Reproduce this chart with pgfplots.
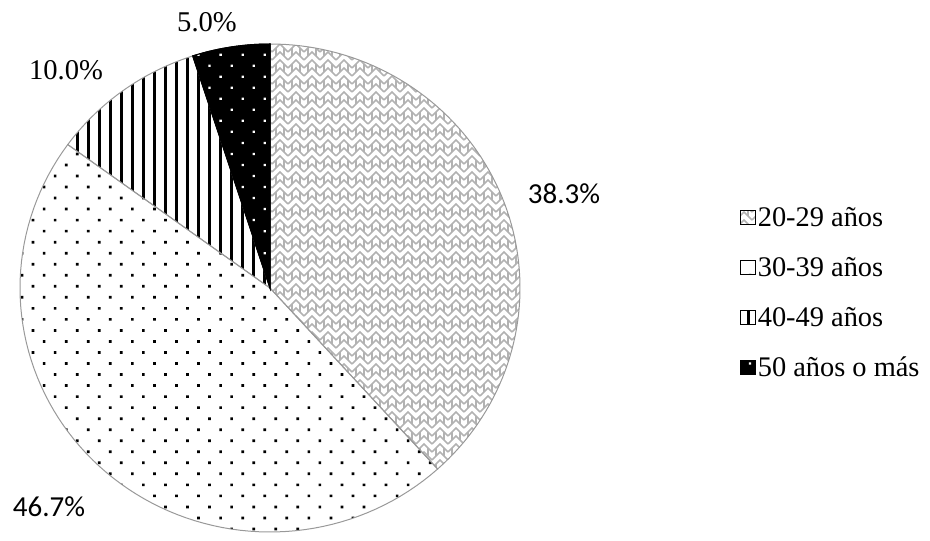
\documentclass[border=0pt]{standalone}
\usepackage{pgfplots}
\pgfplotsset{compat=1.18}
\usepackage{fontspec}
\setmainfont{Liberation Serif}
\newfontfamily\calib{Carlito}
\usetikzlibrary{patterns,patterns.meta}

\pgfdeclarepatternformonly{herring}{\pgfqpoint{-1pt}{-1pt}}{\pgfqpoint{9pt}{9pt}}{\pgfqpoint{8pt}{8pt}}{%
  \pgfsetlinewidth{0.8pt}%
  \pgfpathmoveto{\pgfqpoint{0pt}{0pt}}\pgfpathlineto{\pgfqpoint{4pt}{4pt}}\pgfpathlineto{\pgfqpoint{8pt}{0pt}}%
  \pgfpathmoveto{\pgfqpoint{0pt}{4pt}}\pgfpathlineto{\pgfqpoint{4pt}{8pt}}\pgfpathlineto{\pgfqpoint{8pt}{4pt}}%
  \pgfpathmoveto{\pgfqpoint{2pt}{2pt}}\pgfpathlineto{\pgfqpoint{2pt}{6pt}}%
  \pgfpathmoveto{\pgfqpoint{6pt}{2pt}}\pgfpathlineto{\pgfqpoint{6pt}{6pt}}%
  \pgfusepath{stroke}}

% data: shares in percent
\def\pA{38.3}% 20-29
\def\pB{46.7}% 30-39
\def\pC{10.0}% 40-49
\def\pD{5.0}%  50+
\def\cx{270}\def\cy{252}\def\rx{250}\def\ry{244}

\begin{document}
\begin{tikzpicture}
\pgfmathsetmacro{\aA}{90}
\pgfmathsetmacro{\aB}{\aA-3.6*\pA}
\pgfmathsetmacro{\aC}{\aB-3.6*\pB}
\pgfmathsetmacro{\aD}{\aC-3.6*\pC}
\pgfmathsetmacro{\aE}{\aD-3.6*\pD}
\begin{axis}[
  width=465pt, height=270pt, scale only axis,
  xmin=0, xmax=930, ymin=0, ymax=540,
  hide axis, clip=false,
  legend cell align=left,
  legend image code/.code={\draw[#1, draw=black, line width=0.5pt] (0pt,-3.6pt) rectangle (7.2pt,3.6pt);},
  legend style={at={(axis cs:734,340)}, anchor=north west, draw=none, fill=none,
    font=\fontsize{14.2}{16}\selectfont, row sep=12pt,
    nodes={inner sep=1pt, text height=10pt, text depth=1pt},
    /tikz/every even column/.append style={column sep=1pt}},
]
\addplot[draw=gray!80, line width=0.5pt, pattern=herring, pattern color=gray!60, domain=\aB:\aA, samples=80]
  ({\cx+\rx*cos(x)}, {\cy+\ry*sin(x)}) -- (axis cs:\cx,\cy) -- cycle;
\addlegendentry{20-29 años}
\addplot[draw=gray!80, line width=0.5pt, pattern={Dots[angle=45, distance=7.8pt, radius=0.95pt]}, pattern color=black, domain=\aC:\aB, samples=80]
  ({\cx+\rx*cos(x)}, {\cy+\ry*sin(x)}) -- (axis cs:\cx,\cy) -- cycle;
\addlegendentry{30-39 años}
\addplot[draw=gray!80, line width=0.5pt, pattern={Lines[angle=90, distance=5.5pt, line width=1.5pt]}, pattern color=black, domain=\aD:\aC, samples=40]
  ({\cx+\rx*cos(x)}, {\cy+\ry*sin(x)}) -- (axis cs:\cx,\cy) -- cycle;
\addlegendentry{40-49 años}
\addplot[draw=black, line width=0.5pt, fill=black, postaction={pattern={Dots[angle=45, distance=7.8pt, radius=0.8pt]}, pattern color=white}, domain=\aE:\aD, samples=30]
  ({\cx+\rx*cos(x)}, {\cy+\ry*sin(x)}) -- (axis cs:\cx,\cy) -- cycle;
\addlegendentry{50 años o más}

\node[font=\calib\fontsize{14.5}{16}\selectfont] at (axis cs:564,346) {38.3\%};
\node[font=\calib\fontsize{14.5}{16}\selectfont] at (axis cs:49,33) {46.7\%};
\node[font=\fontsize{14.3}{16}\selectfont] at (axis cs:66,470) {10.0\%};
\node[font=\fontsize{14.3}{16}\selectfont] at (axis cs:207,518) {5.0\%};
\end{axis}
\pgfresetboundingbox
\useasboundingbox (current axis.south west) rectangle (current axis.north east);
\end{tikzpicture}
\end{document}
